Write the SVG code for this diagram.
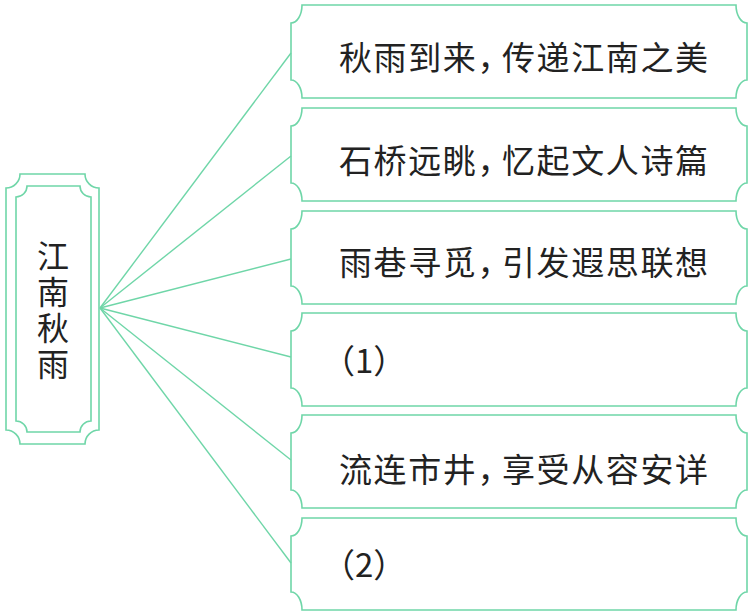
<svg xmlns="http://www.w3.org/2000/svg" width="755" height="616" viewBox="0 0 755 616">
<style>
.frame{fill:none;stroke:#6fd6a8;stroke-width:1.6}
.conn line{stroke:#6fd6a8;stroke-width:1.4}
.t{font-family:"Noto Sans CJK SC","Noto Sans",sans-serif;font-size:33px;fill:#222;letter-spacing:1.6px}
.v{font-family:"Noto Sans CJK SC","Noto Sans",sans-serif;font-size:32px;fill:#222;writing-mode:vertical-rl;letter-spacing:4px}
</style>
<rect width="755" height="616" fill="#fff"/>
<g id="conn" class="conn">
<line x1="100" y1="308" x2="291" y2="53"/>
<line x1="100" y1="308" x2="291" y2="156"/>
<line x1="100" y1="308" x2="291" y2="259"/>
<line x1="100" y1="308" x2="291" y2="357"/>
<line x1="100" y1="308" x2="291" y2="460"/>
<line x1="100" y1="308" x2="291" y2="563"/>
</g>
<g id="root">
<path class="frame" d="M20,174 H85 A14 14 0 0 0 99,188 V430 A14 14 0 0 0 85,444 H20 A14 14 0 0 0 6,430 V188 A14 14 0 0 0 20,174 Z"/>
<path class="frame" d="M27,186 H80 A11 11 0 0 0 91,197 V421 A11 11 0 0 0 80,432 H27 A11 11 0 0 0 16,421 V197 A11 11 0 0 0 27,186 Z"/>
<text class="v" x="53" y="240">江南秋雨</text>
</g>
<g id="n1">
<path class="frame" d="M302,5 H736 A11 18 0 0 0 747,23 V80 A11 18 0 0 0 736,98 H302 A11 18 0 0 0 291,80 V23 A11 18 0 0 0 302,5 Z"/>
<text class="t" y="70"><tspan x="339">秋雨到来，</tspan><tspan x="502">传递江南之美</tspan></text>
</g>
<g id="n2">
<path class="frame" d="M302,108 H736 A11 18 0 0 0 747,126 V183 A11 18 0 0 0 736,201 H302 A11 18 0 0 0 291,183 V126 A11 18 0 0 0 302,108 Z"/>
<text class="t" y="173"><tspan x="339">石桥远眺，</tspan><tspan x="502">忆起文人诗篇</tspan></text>
</g>
<g id="n3">
<path class="frame" d="M302,211 H736 A11 18 0 0 0 747,229 V286 A11 18 0 0 0 736,304 H302 A11 18 0 0 0 291,286 V229 A11 18 0 0 0 302,211 Z"/>
<text class="t" y="275"><tspan x="339">雨巷寻觅，</tspan><tspan x="502">引发遐思联想</tspan></text>
</g>
<g id="n4">
<path class="frame" d="M302,313 H736 A11 18 0 0 0 747,331 V388 A11 18 0 0 0 736,406 H302 A11 18 0 0 0 291,388 V331 A11 18 0 0 0 302,313 Z"/>
<text class="t" x="322" y="373" style="letter-spacing:0">（1）</text>
</g>
<g id="n5">
<path class="frame" d="M302,415 H736 A11 18 0 0 0 747,433 V490 A11 18 0 0 0 736,508 H302 A11 18 0 0 0 291,490 V433 A11 18 0 0 0 302,415 Z"/>
<text class="t" y="482"><tspan x="339">流连市井，</tspan><tspan x="502">享受从容安详</tspan></text>
</g>
<g id="n6">
<path class="frame" d="M302,518 H736 A11 18 0 0 0 747,536 V592 A11 18 0 0 0 736,610 H302 A11 18 0 0 0 291,592 V536 A11 18 0 0 0 302,518 Z"/>
<text class="t" x="322" y="577" style="letter-spacing:0">（2）</text>
</g>
</svg>
